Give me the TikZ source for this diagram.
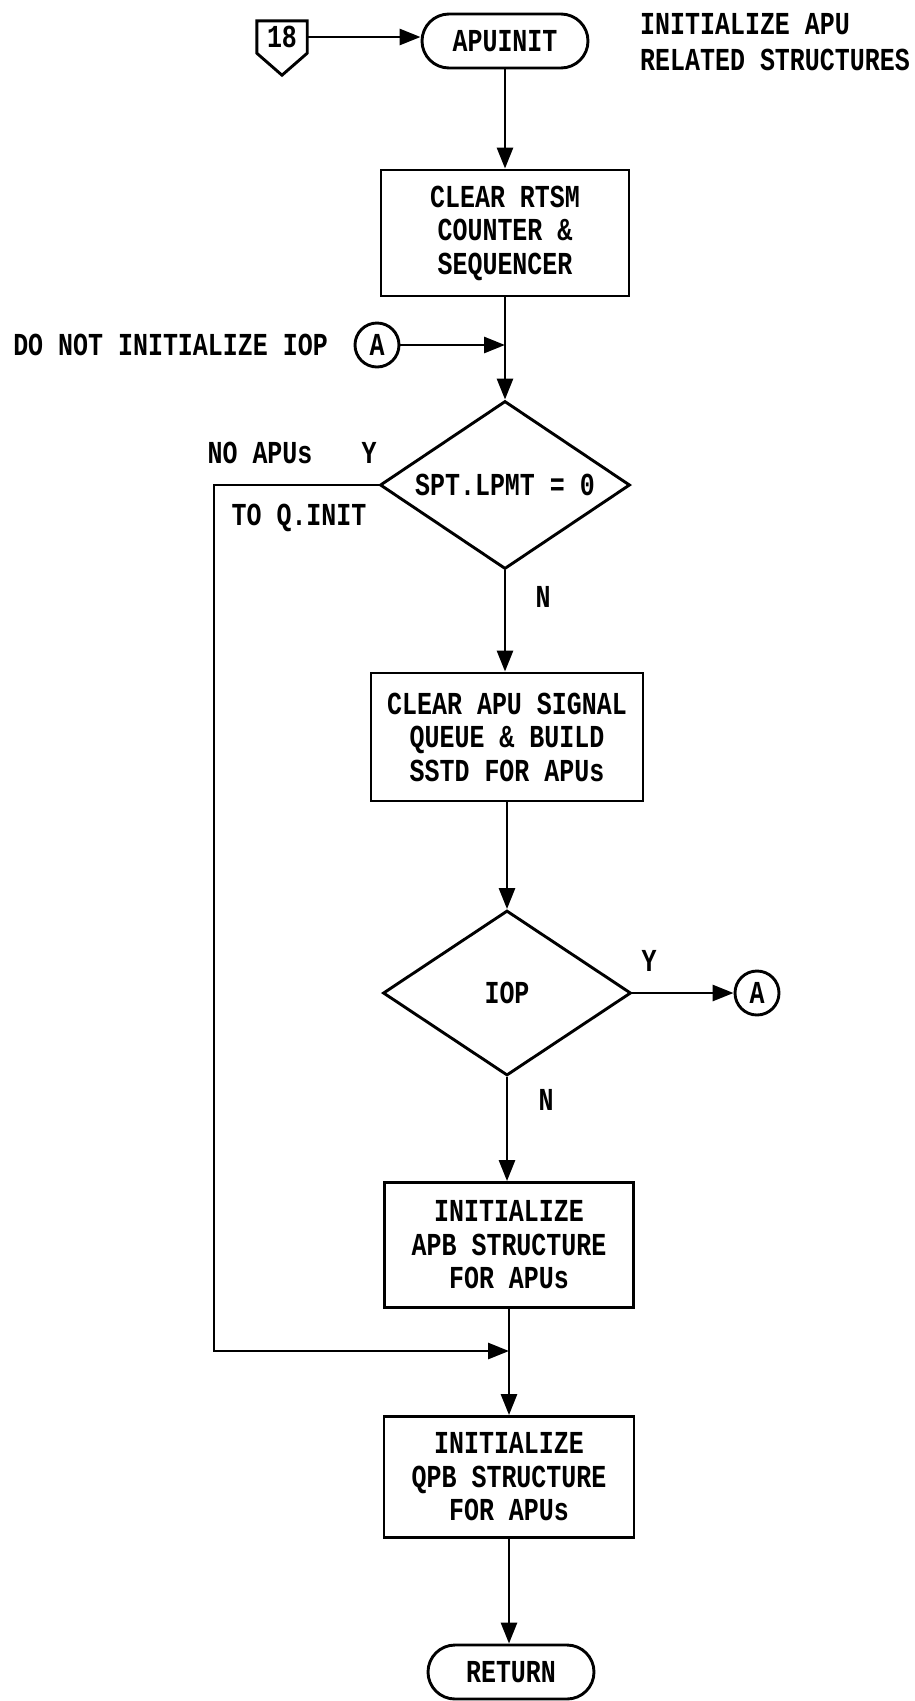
\documentclass[tikz,border=0pt]{standalone}
\usepackage{fontspec}
\newfontfamily\plotfont[FakeStretch=0.78]{Liberation Mono}
\usetikzlibrary{shapes.geometric,arrows.meta}
\begin{document}
\begin{tikzpicture}[x=1pt,y=-1pt,
  every node/.style={font=\plotfont\bfseries\fontsize{32}{33.5}\selectfont},
  ln/.style={line width=2.9pt},
  arr/.style={ln,-{Triangle[length=21pt,width=16pt]}},
  procbox/.style={draw,ln,rectangle,align=center,inner sep=0pt},
  term/.style={draw,ln,rectangle,rounded corners=27pt,minimum width=166pt,minimum height=54pt,inner sep=0pt},
  decision/.style={draw,ln,diamond,aspect=1.5,inner sep=0pt},
  conn/.style={draw,ln,circle,minimum size=44pt,inner sep=0pt},
  lbl/.style={inner sep=0pt}
]
\fill[white] (0,0) rectangle (915,1701);
\useasboundingbox (0,0) rectangle (915,1701);

% off-page connector 18
\node[lbl,minimum width=50pt,minimum height=32pt] (n18) at (282,37) {18};
\draw[ln] (n18.north west) -- (n18.north east) -- (n18.south east) -- ([yshift=-22pt]n18.south) -- (n18.south west) -- cycle;

\node[term] (init) at (505,41) {APUINIT};
\draw[arr] (n18.east) -- (n18.east -| init.west);
\node[lbl,align=left,anchor=west] (note) at (640,42) {INITIALIZE APU\\[2.5pt]RELATED STRUCTURES};

\node[procbox,minimum width=248pt,minimum height=126pt] (b1) at (505,233) {CLEAR RTSM\\COUNTER \&\\SEQUENCER};
\draw[arr] (init.south) -- (b1.north);

\node[conn] (a1) at (377,345) {A};
\node[lbl,anchor=east] (dnl) at (328,345) {DO NOT INITIALIZE IOP};
\coordinate (j1) at (505,345);
\draw[arr] (a1.east) -- (j1);

\node[decision,minimum width=250pt,minimum height=168pt] (d1) at (505,485) {SPT.LPMT = 0};
\draw[ln] (b1.south) -- (j1);
\draw[arr] (j1) -- (d1.north);

\node[lbl] (noapus) at (260,453) {NO APUs};
\node[lbl] (y1) at (369,453) {Y};
\node[lbl] (toq) at (299,518) {TO Q.INIT};
\node[lbl] (n1) at (543,597) {N};

\coordinate (c1) at (214,485);
\coordinate (c2) at (214,1351);
\coordinate (j2) at (509,1351);
\draw[arr] (d1.west) -- (c1) -- (c2) -- (j2);

\node[procbox,minimum width=272pt,minimum height=128pt] (b2) at (507,737) {CLEAR APU SIGNAL\\QUEUE \& BUILD\\SSTD FOR APUs};
\draw[arr] (d1.south) -- (d1.south |- b2.north);

\node[decision,minimum width=248pt,minimum height=165pt] (d2) at (507,993) {IOP};
\draw[arr] (b2.south) -- (d2.north);
\node[lbl] (y2) at (649,961) {Y};
\node[conn] (a2) at (757,993) {A};
\draw[arr] (d2.east) -- (a2.west);
\node[lbl] (n2) at (546,1100) {N};

\node[procbox,minimum width=249pt,minimum height=125pt] (b3) at (509,1245) {INITIALIZE\\APB STRUCTURE\\FOR APUs};
\draw[arr] (d2.south) -- (d2.south |- b3.north);
\draw[ln] (b3.south) -- (j2);

\node[procbox,minimum width=250pt,minimum height=121pt] (b4) at (509,1477) {INITIALIZE\\QPB STRUCTURE\\FOR APUs};
\draw[arr] (j2) -- (b4.north);

\node[term] (ret) at (511,1672) {RETURN};
\draw[arr] (b4.south) -- (b4.south |- ret.north);
\end{tikzpicture}
\end{document}
